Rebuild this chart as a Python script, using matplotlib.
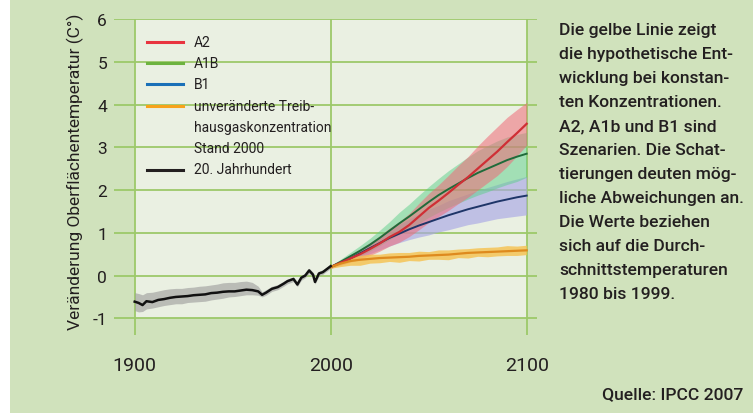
import matplotlib
matplotlib.use('Agg')
import matplotlib.pyplot as plt
from matplotlib.patches import Rectangle
from matplotlib.lines import Line2D

plt.rcParams['font.family'] = ['Roboto', 'DejaVu Sans']

# 20. Jahrhundert (beobachtet)
hist_years = [1900, 1902, 1904, 1906, 1909, 1912, 1915, 1918, 1921, 1924, 1927, 1930,
              1933, 1936, 1939, 1942, 1945, 1948, 1951, 1954, 1957, 1960, 1963, 1965,
              1967, 1970, 1973, 1976, 1978, 1981, 1983, 1985, 1987, 1989, 1991, 1992,
              1994, 1996, 1998, 2000]
hist_mean = [-0.61, -0.64, -0.69, -0.60, -0.62, -0.57, -0.55, -0.52, -0.50, -0.49, -0.48, -0.46,
             -0.45, -0.44, -0.41, -0.40, -0.38, -0.37, -0.37, -0.35, -0.33, -0.34, -0.37, -0.45,
             -0.40, -0.31, -0.27, -0.19, -0.13, -0.08, -0.21, -0.05, 0.00, 0.12, 0.02, -0.15,
             0.05, 0.08, 0.15, 0.22]
hist_lo = [-0.82, -0.85, -0.84, -0.78, -0.76, -0.73, -0.70, -0.68, -0.66, -0.66, -0.63, -0.62,
           -0.61, -0.60, -0.57, -0.55, -0.53, -0.50, -0.49, -0.47, -0.45, -0.45, -0.46, -0.50,
           -0.46, -0.37, -0.33, -0.25, -0.19, -0.14, -0.26, -0.11, -0.05, 0.05, -0.04, -0.20,
           -0.01, 0.03, 0.10, 0.17]
hist_hi = [-0.40, -0.42, -0.45, -0.40, -0.39, -0.36, -0.33, -0.31, -0.30, -0.30, -0.28, -0.27,
           -0.25, -0.24, -0.22, -0.20, -0.17, -0.16, -0.16, -0.14, -0.13, -0.16, -0.25, -0.38,
           -0.33, -0.25, -0.21, -0.13, -0.08, -0.03, -0.15, 0.01, 0.05, 0.17, 0.08, -0.09,
           0.10, 0.14, 0.20, 0.27]

# Szenarien 2000-2100
fut_years = [2000, 2005, 2010, 2015, 2020, 2025, 2030, 2035, 2040, 2045, 2050,
             2055, 2060, 2065, 2070, 2075, 2080, 2085, 2090, 2095, 2100]
a2_mean = [0.20, 0.30, 0.40, 0.50, 0.62, 0.75, 0.90, 1.02, 1.18, 1.38, 1.58,
           1.75, 1.93, 2.12, 2.30, 2.50, 2.70, 2.90, 3.12, 3.33, 3.55]
a2_lo = [0.17, 0.24, 0.31, 0.38, 0.47, 0.57, 0.69, 0.78, 0.91, 1.07, 1.24,
         1.38, 1.52, 1.68, 1.83, 2.00, 2.17, 2.34, 2.55, 2.80, 3.05]
a2_hi = [0.23, 0.36, 0.49, 0.62, 0.77, 0.93, 1.11, 1.26, 1.45, 1.69, 1.92,
         2.12, 2.34, 2.57, 2.78, 3.03, 3.26, 3.48, 3.70, 3.88, 4.05]
a1b_mean = [0.20, 0.32, 0.45, 0.58, 0.72, 0.88, 1.05, 1.22, 1.38, 1.55, 1.72,
            1.88, 2.02, 2.15, 2.28, 2.40, 2.50, 2.60, 2.70, 2.78, 2.85]
a1b_lo = [0.17, 0.26, 0.36, 0.46, 0.57, 0.70, 0.84, 0.97, 1.09, 1.22, 1.36,
          1.48, 1.59, 1.69, 1.79, 1.88, 1.96, 2.05, 2.13, 2.20, 2.30]
a1b_hi = [0.23, 0.38, 0.54, 0.70, 0.87, 1.06, 1.26, 1.48, 1.67, 1.88, 2.08,
          2.27, 2.45, 2.61, 2.77, 2.92, 3.04, 3.15, 3.24, 3.30, 3.35]
b1_mean = [0.20, 0.30, 0.40, 0.52, 0.64, 0.76, 0.88, 0.98, 1.08, 1.17, 1.25,
           1.33, 1.41, 1.48, 1.55, 1.61, 1.67, 1.73, 1.78, 1.83, 1.87]
b1_lo = [0.17, 0.25, 0.32, 0.42, 0.51, 0.60, 0.69, 0.77, 0.84, 0.90, 0.95,
         1.02, 1.07, 1.13, 1.19, 1.23, 1.28, 1.33, 1.36, 1.39, 1.42]
b1_hi = [0.23, 0.35, 0.48, 0.62, 0.77, 0.92, 1.07, 1.20, 1.32, 1.44, 1.55,
         1.64, 1.75, 1.83, 1.91, 1.99, 2.06, 2.13, 2.20, 2.26, 2.32]
const_mean = [0.20, 0.28, 0.34, 0.37, 0.39, 0.41, 0.42, 0.43, 0.44, 0.46, 0.47,
              0.48, 0.49, 0.51, 0.53, 0.54, 0.55, 0.56, 0.57, 0.58, 0.59]
const_lo = [0.17, 0.21, 0.24, 0.24, 0.29, 0.30, 0.33, 0.31, 0.35, 0.34, 0.38,
            0.38, 0.37, 0.42, 0.41, 0.45, 0.44, 0.46, 0.47, 0.47, 0.49]
const_hi = [0.23, 0.35, 0.44, 0.47, 0.50, 0.50, 0.53, 0.54, 0.54, 0.57, 0.56,
            0.60, 0.60, 0.62, 0.63, 0.65, 0.66, 0.67, 0.70, 0.69, 0.71]

y_ticks = [-1, 0, 1, 2, 3, 4, 5, 6]
x_ticks = [1900, 2000, 2100]

legend_labels = ['A2', 'A1B', 'B1', 'unveränderte Treib-', 'hausgaskonzentration',
                 'Stand 2000', '20. Jahrhundert']
legend_colors = ['#e8343f', '#6db33f', '#1a70b8', '#f7a21b', None, None, '#231f20']

note = ("Die gelbe Linie zeigt\ndie hypothetische Ent-\nwicklung bei konstan-\n"
        "ten Konzentrationen.\nA2, A1b und B1 sind\nSzenarien. Die Schat-\n"
        "tierungen deuten mög-\nliche Abweichungen an.\nDie Werte beziehen\n"
        "sich auf die Durch-\nschnittstemperaturen\n1980 bis 1999.")

outer = '#d0e2bc'
inner = '#eaf0e2'
grid = '#9dc96a'
ink = '#231f20'

W, H = 753, 414
fig = plt.figure(figsize=(W / 100, H / 100), dpi=100, facecolor='white')
fig.add_artist(Rectangle((10 / W, 0), 1, 1, transform=fig.transFigure,
                         facecolor=outer, edgecolor='none', zorder=0))

ax = fig.add_axes([114 / W, 78 / H, 423 / W, 316 / H])
ax.set_facecolor('none')
ax.set_xlim(1889.44, 2105.26)
ax.set_ylim(-1.39, 6)
for s in ax.spines.values():
    s.set_visible(False)

ax.add_patch(Rectangle((1900, -1), 200, 7, facecolor=inner, edgecolor='none', zorder=0))
for v in y_ticks:
    ax.axhline(v, color=grid, lw=1.3, zorder=1)
for v in x_ticks:
    ax.axvline(v, color=grid, lw=1.3, zorder=1)

# Schattierungen
ax.fill_between(hist_years, hist_lo, hist_hi, color='#9a9a9a', alpha=0.6, lw=0, zorder=2)
ax.fill_between(fut_years, b1_lo, b1_hi, color='#a9a7e6', alpha=0.65, lw=0, zorder=2)
ax.fill_between(fut_years, a1b_lo, a1b_hi, color='#5ccf8a', alpha=0.5, lw=0, zorder=2)
ax.fill_between(fut_years, a2_lo, a2_hi, color='#f06a78', alpha=0.55, lw=0, zorder=2)
ax.fill_between(fut_years, const_lo, const_hi, color='#f6c14e', alpha=0.8, lw=0, zorder=3)

# Linien
ax.plot(fut_years, b1_mean, color='#1e3568', lw=1.4, zorder=4)
ax.plot(fut_years, a1b_mean, color='#1f6b3a', lw=1.4, zorder=4)
ax.plot(fut_years, a2_mean, color='#cf2f35', lw=1.6, zorder=4)
ax.plot(fut_years, const_mean, color='#de8a1e', lw=1.6, zorder=4)
ax.plot(hist_years, hist_mean, color='#111111', lw=1.8, zorder=5)

ax.set_yticks(y_ticks)
ax.set_yticklabels([str(v) for v in y_ticks])
ax.set_xticks(x_ticks)
ax.tick_params(axis='y', length=0, pad=5, labelsize=12.5, labelcolor=ink)
ax.tick_params(axis='x', length=0, pad=15, labelsize=14, labelcolor=ink)

fig.text(75 / W, 1 - 172 / H, 'Veränderung Oberflächentemperatur (C°)', rotation=90,
         ha='center', va='center', fontsize=12.5, color=ink)

# Legende
for i, (lab, col) in enumerate(zip(legend_labels, legend_colors)):
    yy = 1 - (42.7 + 21.3 * i) / H
    if col is not None:
        fig.add_artist(Line2D([147 / W, 183 / W], [yy, yy], color=col, lw=2.2,
                              transform=fig.transFigure))
    fig.text(194 / W, yy, lab, ha='left', va='center', fontsize=10, color=ink)

fig.text(559 / W, 1 - 23 / H, note, ha='left', va='top', fontsize=12.6,
         fontweight='medium', color=ink, linespacing=1.75)
fig.text(743 / W, 1 - 395 / H, 'Quelle: IPCC 2007', ha='right', va='center',
         fontsize=12.6, fontweight='medium', color=ink)

fig.savefig('out.png', dpi=100, facecolor=fig.get_facecolor())
